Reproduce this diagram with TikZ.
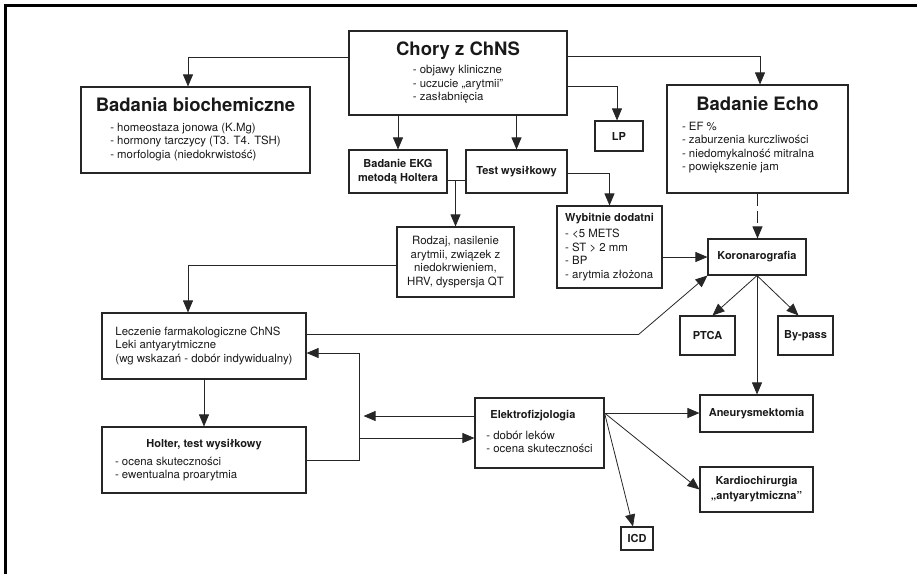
\documentclass[tikz,border=0pt]{standalone}
\usepackage{fontspec}
\setmainfont{TeX Gyre Heros}
\usepackage{tikz}
\usetikzlibrary{arrows.meta, positioning}

\newcommand*{\titlefont}{\fontsize{18.5}{22}\selectfont\bfseries}
\newcommand*{\itemfont}{\fontsize{11.4}{13.5}\selectfont\mdseries}
\newcommand*{\labfont}{\fontsize{11}{13.5}\selectfont\bfseries}

\begin{document}
\begin{tikzpicture}[x=1pt, y=-1pt,
		box/.style = {draw=black!85, line width=1.1pt, inner sep=0pt, align=center, text=black!90, font=\itemfont},
		boldbox/.style = {box, font=\labfont},
		arr/.style = {-{Triangle[length=12pt,width=10pt]}, line width=0.8pt, draw=black!85}]
		\useasboundingbox (0,0) rectangle (917,574);
		\draw[line width=3pt] (5.5,574) -- (5.5,5) -- (917,5);
		
		\node[box, minimum width=218pt, minimum height=84pt] (chory) at (458,73)
		{{\titlefont Chory z ChNS}\\[4pt]\begin{tabular}[t]{@{}l@{}}- objawy kliniczne\\ - uczucie „arytmii”\\ - zasłabnięcia\end{tabular}};
		\node[box, minimum width=229pt, minimum height=86pt] (biochem) at (195.5,130)
		{{\titlefont Badania biochemiczne}\\[6.5pt]\begin{tabular}[t]{@{}l@{}}- homeostaza jonowa (K.Mg)\\ - hormony tarczycy (T3. T4. TSH)\\ - morfologia (niedokrwistość)\end{tabular}};
		\node[box, minimum width=181pt, minimum height=108pt] (echo) at (757.5,139)
		{\parbox{151pt}{\centering\titlefont Badanie Echo\par\vspace{6.5pt}\raggedright\itemfont - EF \%\\ - zaburzenia kurczliwości\\ - niedomykalność mitralna\\ - powiększenie jam\par\vspace{8pt}}};
		\node[boldbox, minimum width=48pt, minimum height=30pt] (lp) at (619,136) {LP};
		
		\node[boldbox, minimum width=98pt, minimum height=43pt] (ekg) at (398,171.5) {Badanie EKG\\metodą Holtera};
		\node[boldbox, minimum width=101pt, minimum height=43pt] (test) at (516.5,171.5) {Test wysiłkowy};
		\node[box, minimum width=117pt, minimum height=70pt] (rodzaj) at (455.5,262)
		{Rodzaj, nasilenie\\arytmii, związek z\\niedokrwieniem,\\HRV, dyspersja QT};
		\node[box, minimum width=105pt, minimum height=82pt] (wybit) at (609.5,247)
		{\begin{tabular}{@{}l@{}}\labfont Wybitnie dodatni\\[3pt] - \textless5 METS\\ - ST \textgreater\ 2 mm\\ - BP\\ - arytmia złożona\end{tabular}};
		
		\node[boldbox, minimum width=98pt, minimum height=36pt] (koro) at (757,257) {Koronarografia};
		\node[boldbox, minimum width=55pt, minimum height=39pt] (ptca) at (707.5,335.5) {PTCA};
		\node[boldbox, minimum width=55pt, minimum height=39pt] (bypass) at (805.5,335.5) {By-pass};
		
		\node[box, minimum width=204pt, minimum height=66pt] (leczenie) at (204,346)
		{\begin{tabular}{@{}l@{}}Leczenie farmakologiczne ChNS\\ Leki antyarytmiczne\\ (wg wskazań - dobór indywidualny)\end{tabular}};
		\node[box, minimum width=204pt, minimum height=66pt] (holter) at (204,460)
		{\parbox{178pt}{\centering\labfont Holter, test wysiłkowy\par\vspace{4.5pt}\raggedright\itemfont - ocena skuteczności\\ - ewentualna proarytmia}};
		\node[box, minimum width=129pt, minimum height=70pt] (elektro) at (539.5,433)
		{\begin{tabular}{@{}l@{}}\hspace*{4pt}\labfont Elektrofizjologia\\[7.5pt] - dobór leków\\ - ocena skuteczności\end{tabular}};
		
		\node[boldbox, minimum width=113pt, minimum height=37pt] (aneur) at (756.5,413.5) {Aneurysmektomia};
		\node[boldbox, minimum width=113pt, minimum height=45pt] (kardio) at (756.5,489.5) {Kardiochirurgia\\[1.5pt]„antyarytmiczna”};
		\node[boldbox, minimum width=32pt, minimum height=23pt] (icd) at (637,538.5) {ICD};
		
		%%%%%%%%%%%%%%%%%%%%%%%%%%%%%%
		
		\draw[arr] ([yshift=-27pt]chory.north west) -| ([xshift=-7.5pt]biochem.north);
		\draw[arr] ([yshift=-26pt]chory.north east) -| ([xshift=2.5pt]echo.north);
		\draw[arr] ([yshift=-56pt]chory.north east) -| ([xshift=-2pt]lp.north);
		\draw[arr] (chory.south -| ekg.north) -- (ekg.north);
		\draw[arr] (chory.south -| test.north) -- (test.north);
		
		\coordinate (ekgout) at ([yshift=-8.5pt]ekg.east);
		\draw[line width=0.8pt, draw=black!85] (ekgout) -- (ekgout -| test.west);
		\draw[arr] (ekgout -| rodzaj.north) -- (rodzaj.north);
		\draw[arr] ([yshift=-1.5pt]test.east) -| (wybit.north);
		\draw[arr] ([yshift=-3pt]rodzaj.west) -| ([xshift=-16pt]leczenie.north);
		
		\draw[arr, dash pattern=on 12pt off 5pt] (echo.south) -- (echo.south |- koro.north);
		\draw[arr] (wybit.east |- koro.west) -- (koro.west);
		\draw[arr] ([yshift=11.5pt]leczenie.east) -- ++(332,0) -- (koro.south west);
		\draw[arr] (koro.south) -- ([xshift=5pt]ptca.north);
		\draw[arr] (koro.south) -- ([xshift=-7pt]bypass.north);
		\draw[arr] (koro.south) -- (koro.south |- aneur.north);
		
		\draw[arr] (leczenie.south) -- (holter.north);
		\coordinate (loop) at ([xshift=53pt]holter.east);
		\draw[arr] (holter.east) -- (loop) |- ([yshift=-7pt]leczenie.east);
		\coordinate (eOut) at ([yshift=17pt]elektro.west);
		\coordinate (eIn) at ([yshift=-5pt]elektro.west);
		\draw[arr, shorten >=4pt] (eOut) -- (loop |- eOut);
		\draw[arr] (loop |- eIn) -- (eIn);
		
		\coordinate (eR) at ([yshift=20pt]elektro.east);
		\draw[arr] (eR) -- (aneur.west |- eR);
		\draw[arr] (eR) -- (kardio.west);
		\draw[arr] (eR) -- ([xshift=-4pt]icd.north);
	\end{tikzpicture}
\end{document}
